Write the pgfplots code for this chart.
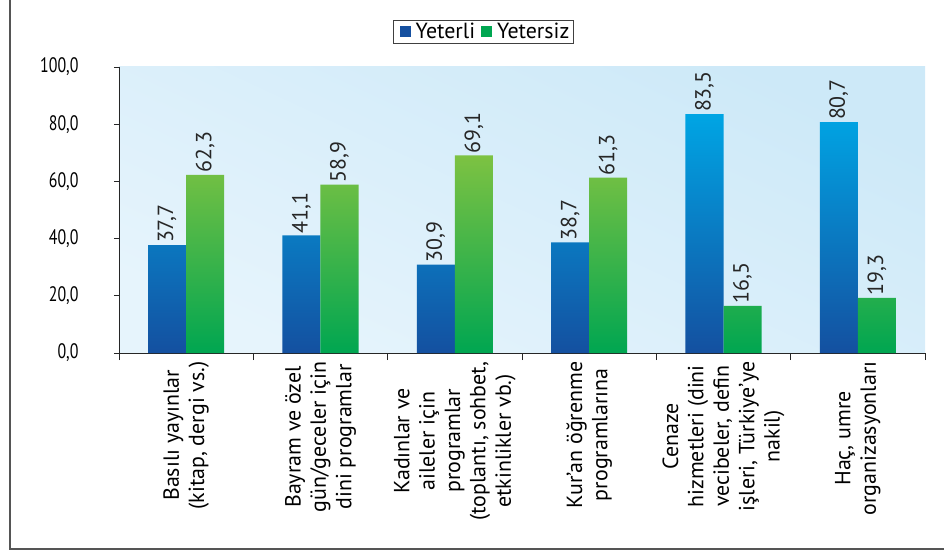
\documentclass[border=0pt]{standalone}
\usepackage{pgfplots}
\pgfplotsset{compat=1.18}
\usepackage{fontspec}
\setmainfont{PT Sans}
\newfontfamily\narrowfont[FakeStretch=0.76]{PT Sans}
\definecolor{bluetop}{HTML}{00A5E4}
\definecolor{bluemid}{HTML}{0990D6}
\definecolor{bluebot}{HTML}{1450A0}
\definecolor{greentop}{HTML}{7DC242}
\definecolor{greenmid}{HTML}{2DB24A}
\definecolor{greenbot}{HTML}{00A651}
\definecolor{legblue}{HTML}{1550A0}
\definecolor{leggreen}{HTML}{00A651}
\definecolor{bgtop}{HTML}{CDE9F8}
\definecolor{bgbot}{HTML}{E6F4FC}
\definecolor{framegray}{HTML}{555555}
\begin{document}
\begin{tikzpicture}
\path[use as bounding box] (-119bp,-199bp) rectangle (825bp,353bp);
\draw[framegray, line width=1.5bp] (-109bp,353bp) -- (-109bp,-196bp) -- (825bp,-196bp);
\begin{axis}[
  at={(0,0)}, anchor=south west,
  scale only axis, width=806bp, height=286bp,
  ybar=0pt, bar width=0.283,
  xmin=-0.5, xmax=5.5, ymin=0, ymax=100,
  axis x line*=bottom, axis y line*=left,
  axis line style={black!85, line width=0.8bp},
  axis background/.style={top color=bgtop, bottom color=bgbot, shading angle=-25},
  tick align=outside,
  tick style={black!85, line width=0.8bp},
  major tick length=5bp, minor tick length=7bp,
  xtick={0,...,5},
  major x tick style={draw=none},
  minor xtick={-0.5,0.5,...,5.5},
  xticklabels={
    {Basılı yayınlar\\(kitap, dergi vs.)},
    {Bayram ve özel\\gün/geceler için\\dini programlar},
    {Kadınlar ve\\aileler için\\programlar\\(toplantı, sohbet,\\etkinlikler vb.)},
    {Kur’an öğrenme\\programlarına},
    {Cenaze\\hizmetleri (dini\\vecibeler, defin\\işleri, Türkiye’ye\\nakil)},
    {Haç, umre\\organizasyonları}},
  xticklabel style={rotate=90, anchor=east, align=center, font=\fontsize{22}{25.5}\selectfont},
  ytick={0,20,...,100},
  yticklabel style={font=\narrowfont\fontsize{21}{25}\selectfont, xshift=-32bp},
  /pgf/number format/fixed,
  /pgf/number format/fixed zerofill,
  /pgf/number format/precision=1,
  /pgf/number format/use comma,
  /pgf/number format/assume math mode=true,
  nodes near coords,
  nodes near coords style={rotate=90, anchor=west, inner sep=2bp, font=\fontsize{22}{25}\selectfont, black!85},
  clip=false,
  legend columns=-1,
  legend style={at={(axis description cs:0.4522,1.124)}, anchor=center, draw=black!75, line width=0.6bp,
    font=\fontsize{22}{26}\selectfont, inner xsep=2bp, inner ysep=1bp,
    /tikz/every even column/.append style={column sep=0bp}},
]
\addplot[draw=none, top color=bluetop, middle color=bluemid, bottom color=bluebot, bar shift=-0.1415, forget plot] coordinates {(0,37.7) (1,41.1) (2,30.9) (3,38.7) (4,83.5) (5,80.7)};
\addplot[draw=none, top color=greentop, middle color=greenmid, bottom color=greenbot, bar shift=0.1415, forget plot] coordinates {(0,62.3) (1,58.9) (2,69.1) (3,61.3) (4,16.5) (5,19.3)};
\addlegendimage{legend image code/.code={\path[draw=none,fill=none] (0bp,0bp) -- (18bp,0bp); \fill[draw=none,fill=legblue] (4bp,-5.5bp) rectangle (15bp,5.5bp);}}
\addlegendentry{Yeterli}
\addlegendimage{legend image code/.code={\path[draw=none,fill=none] (0bp,0bp) -- (18bp,0bp); \fill[draw=none,fill=leggreen] (4bp,-5.5bp) rectangle (15bp,5.5bp);}}
\addlegendentry{Yetersiz}
\end{axis}
\end{tikzpicture}
\end{document}
